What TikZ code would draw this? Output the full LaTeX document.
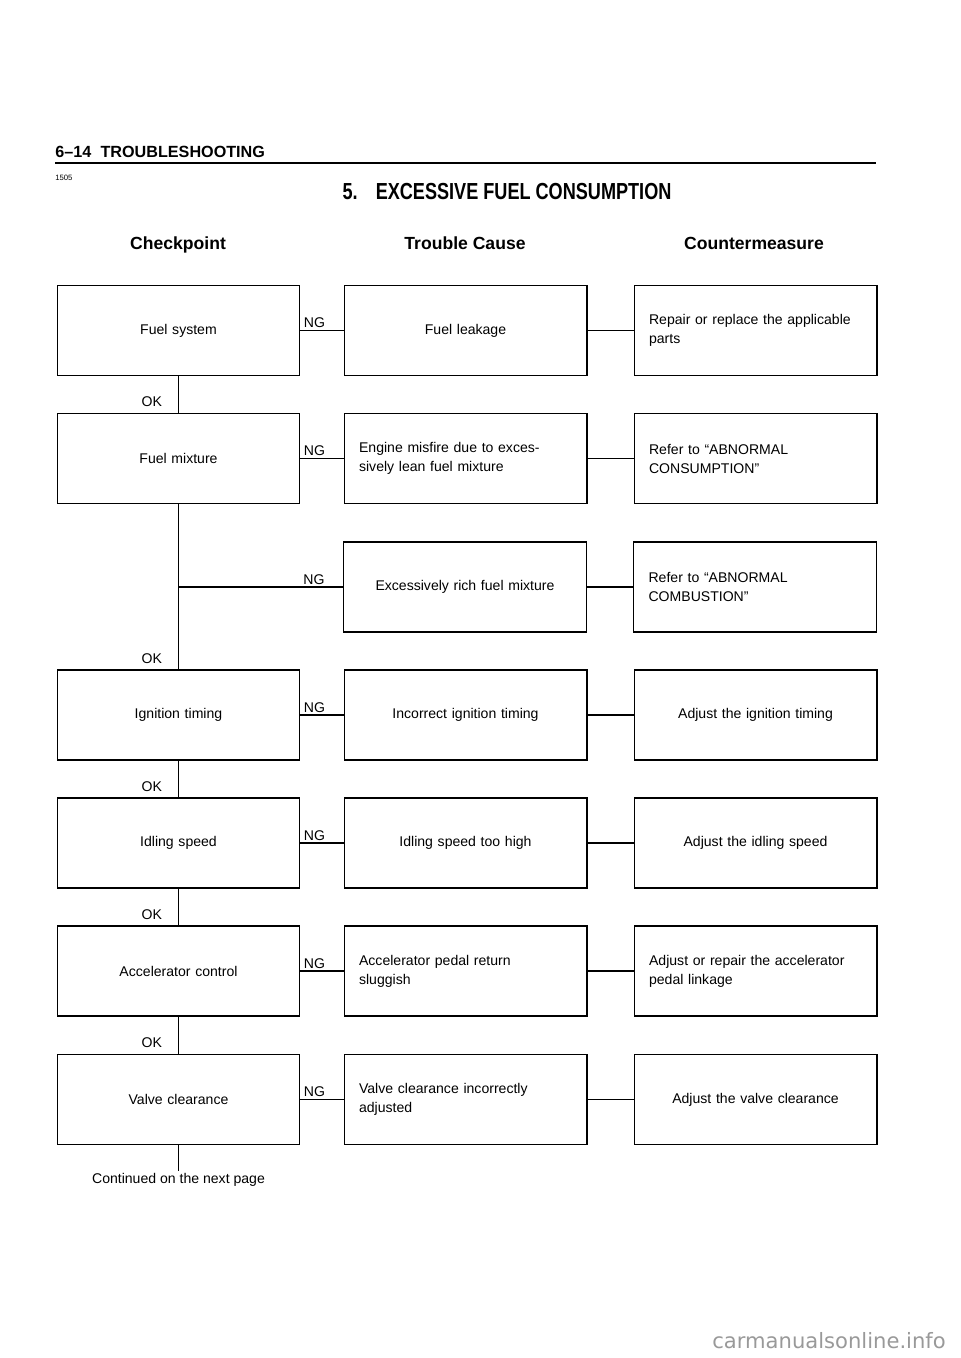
\documentclass[tikz,border=0pt]{standalone}
\usepackage{fontspec}
\setmainfont{Liberation Sans}
\newfontfamily\wmfont{DejaVu Sans}
\usetikzlibrary{positioning}

\begin{document}
\begin{tikzpicture}[x=0.025cm,y=-0.025cm,
  box/.style={draw,line width=0.8pt,text width=5.32cm,inner xsep=0.375cm,minimum height=2.25cm,align=center,font=\fontsize{10}{13.5}\selectfont},
  lbox/.style={box,align=left},
  conn/.style={line width=0.8pt},
  lab/.style={inner sep=1pt,font=\fontsize{10}{12}\selectfont},
  colhead/.style={anchor=base,font=\fontsize{12.5}{15}\selectfont\bfseries}]
\useasboundingbox (0,0) rectangle (960,1358);

% page heading
\node[anchor=base west,inner sep=0pt,font=\fontsize{11.5}{14}\selectfont\bfseries] (pagehead) at (55,158) {6--14\hspace{0.3em} TROUBLESHOOTING};
\draw[line width=1.6pt] (55,163) -- (876,163);
\node[anchor=base west,inner sep=0pt,font=\fontsize{5.5}{6}\selectfont] (pageno) at (55,181) {1505};
\node[font=\fontsize{16.5}{20}\selectfont\bfseries] (title) at (507,192) {\scalebox{0.78}[1]{5.\quad EXCESSIVE FUEL CONSUMPTION}};

% column heads
\node[colhead] (hcheck) at (178,250) {Checkpoint};
\node[colhead] (hcause) at (465,250) {Trouble Cause};
\node[colhead] (hmeasure) at (754,250) {Countermeasure};

% checkpoints
\node[box] (fuelsys) at (178.5,330.5) {Fuel system};
\node[box] (fuelmix) at (178.5,458.5) {Fuel mixture};
\node[box] (igntime) at (178.5,715) {Ignition timing};
\node[box] (idlespd) at (178.5,843) {Idling speed};
\node[box] (accctrl) at (178.5,971) {Accelerator control};
\node[box] (valvecl) at (178.5,1099.5) {Valve clearance};

% trouble causes
\node[box,right=1.075cm of fuelsys] (leak) {Fuel leakage};
\node[lbox,right=1.075cm of fuelmix] (lean) {Engine misfire due to exces-\\sively lean fuel mixture};
\node[box] (rich) at (465,587) {Excessively rich fuel mixture};
\node[box,right=1.075cm of igntime] (badign) {Incorrect ignition timing};
\node[box,right=1.075cm of idlespd] (highidle) {Idling speed too high};
\node[lbox,right=1.075cm of accctrl] (pedal) {Accelerator pedal return\\sluggish};
\node[lbox,right=1.075cm of valvecl] (badvalve) {Valve clearance incorrectly\\adjusted};

% countermeasures
\node[lbox,right=1.15cm of leak] (repair) {Repair or replace the applicable\\parts};
\node[lbox,right=1.15cm of lean] (refcons) {Refer to ``ABNORMAL\\CONSUMPTION''};
\node[lbox,right=1.15cm of rich] (refcomb) {Refer to ``ABNORMAL\\COMBUSTION''};
\node[box,right=1.15cm of badign] (adjign) {Adjust the ignition timing};
\node[box,right=1.15cm of highidle] (adjidle) {Adjust the idling speed};
\node[lbox,right=1.15cm of pedal] (adjpedal) {Adjust or repair the accelerator\\pedal linkage};
\node[box,right=1.15cm of badvalve] (adjvalve) {Adjust the valve clearance};

\coordinate (junc) at (fuelmix.south |- rich.west);

% OK path down the checkpoints
\foreach \a/\b in {fuelsys/fuelmix,fuelmix/igntime,igntime/idlespd,idlespd/accctrl,accctrl/valvecl}{
  \draw[conn] (\a) -- (\b);
  \node[lab,above left=0.11cm and 0.37cm of \b.north] (ok-\b) {OK};
}
% NG branches
\foreach \c/\t/\m in {fuelsys/leak/repair,fuelmix/lean/refcons,junc/rich/refcomb,igntime/badign/adjign,idlespd/highidle/adjidle,accctrl/pedal/adjpedal,valvecl/badvalve/adjvalve}{
  \draw[conn] (\c) -- (\t);
  \draw[conn] (\t) -- (\m);
  \node[lab,above left=0.02cm and 0.42cm of \t.west] (ng-\t) {NG};
}

\node[lab,below=0.66cm of valvecl.south] (contd) {Continued on the next page};
\draw[conn] (valvecl) -- (contd);

\node[anchor=base east,inner sep=0pt,text=black!40,font=\wmfont\fontsize{15}{18}\selectfont] (wmark) at (946,1348) {carmanualsonline.info};
\end{tikzpicture}
\end{document}
